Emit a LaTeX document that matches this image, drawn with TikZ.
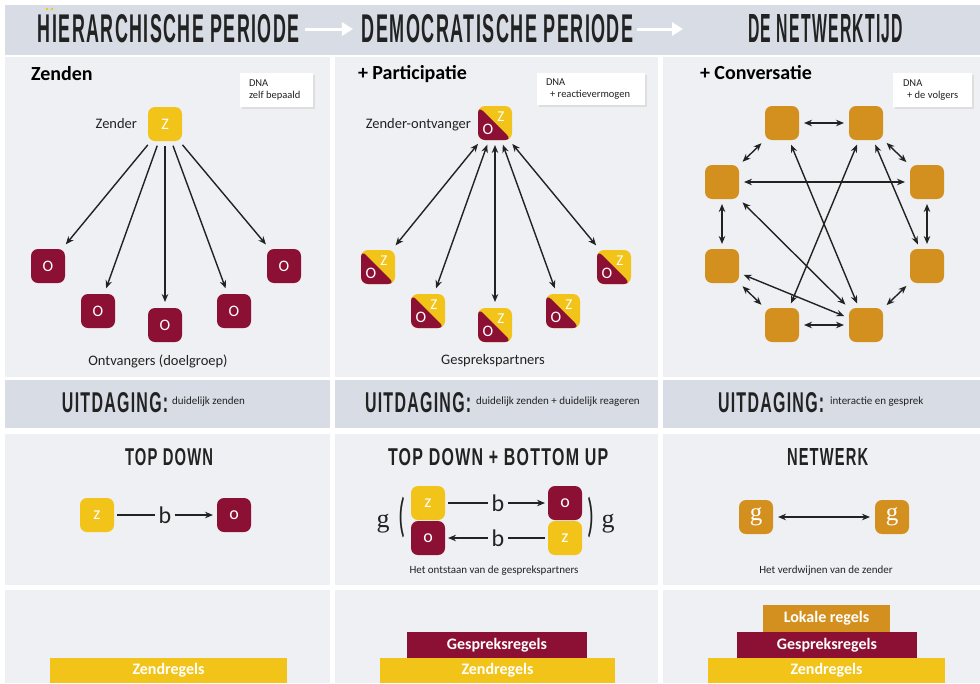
\documentclass[tikz,border=0pt]{standalone}
\usepackage{fontspec}
\usepackage{graphicx}
\setmainfont{Carlito}
\newfontfamily\capsfont[LetterSpace=8]{Liberation Sans}
\newfontfamily\gfont{Liberation Serif}
\usetikzlibrary{arrows.meta,calc}
\definecolor{zy}{HTML}{F2C419}
\definecolor{ored}{HTML}{8C1034}
\definecolor{gor}{HTML}{D4901F}
\definecolor{pbg}{HTML}{EEF0F3}
\definecolor{band}{HTML}{D8DDE5}
\definecolor{ink}{HTML}{222222}
\newcommand{\capstxt}[3]{\resizebox{#1pt}{#2pt}{\capsfont\bfseries #3\kern-0.08em}}
\begin{document}
\begin{tikzpicture}[x=1pt,y=-1pt,
  every node/.style={inner sep=0pt,outer sep=0pt,text=ink},
  arrowtip/.tip={Stealth[length=8pt,width=6.5pt]},
  ln/.style={draw=ink,line width=1.4pt},
  arr/.style={ln,-arrowtip,shorten <=5pt,shorten >=6pt},
  darr/.style={ln,arrowtip-arrowtip,shorten <=5pt,shorten >=5pt},
  box/.style={minimum width=34pt,minimum height=34pt,rounded corners=7pt,text=white,font=\fontsize{16}{16}\selectfont},
  zbox/.style={box,fill=zy},
  obox/.style={box,fill=ored},
  gbox/.style={box,fill=gor,font=\gfont\fontsize{25}{25}\selectfont},
  zobox/.style={box,fill=zy,path picture={
     \fill[ored] (path picture bounding box.north west) -- (path picture bounding box.south west) -- (path picture bounding box.south east) -- cycle;
     \node[text=white,font=\fontsize{15}{15}\selectfont] at ($(path picture bounding box.center)+(6pt,6pt)$) {Z};
     \node[text=white,font=\fontsize{16}{16}\selectfont] at ($(path picture bounding box.center)+(-7pt,-6pt)$) {O};}},
  dnabox/.style={fill=white,preaction={fill=black!13,transform canvas={xshift=1.5pt,yshift=-1.5pt}}},
  dnatxt/.style={anchor=west,align=left,font=\fontsize{10.5}{11.5}\selectfont},
  title/.style={anchor=base west,font=\bfseries\fontsize{20}{20}\selectfont,text=black},
  lbl/.style={font=\fontsize{14.5}{14.5}\selectfont},
  small/.style={font=\fontsize{11}{11}\selectfont},
  bnode/.style={font=\fontsize{24}{24}\selectfont,inner xsep=4pt},
  bar/.style={text=white,font=\bfseries\fontsize{16}{16}\selectfont}
]
\useasboundingbox (0,0) rectangle (980,683);
\fill[white] (0,0) rectangle (980,683);
% backgrounds
\fill[band] (5,5) rectangle (980,55);
\foreach \a/\b in {5/330,335/658,663/980}{
  \fill[pbg] (\a,57) rectangle (\b,377);
  \fill[band] (\a,380) rectangle (\b,428);
  \fill[pbg] (\a,434) rectangle (\b,585);
  \fill[pbg] (\a,590) rectangle (\b,683);
}
% header
\node (h1) at (168,29) {\capstxt{260}{28}{HIERARCHISCHE PERIODE}};
\node (h2) at (497,29) {\capstxt{270}{28}{DEMOCRATISCHE PERIODE}};
\node (h3) at (825,29) {\capstxt{154}{28}{DE NETWERKTIJD}};
\fill[zy] (47,9) circle (1.4pt);
\fill[zy] (52,9) circle (1.4pt);
\draw[white,line width=3pt,-{Triangle[length=11pt,width=13pt]},shorten <=7pt,shorten >=9pt] (h1) -- (h2);
\draw[white,line width=3pt,-{Triangle[length=11pt,width=13pt]},shorten <=5pt,shorten >=65pt] (h2) -- (h3);

% ===== panel 1 top
\node[title] (t1) at (31,80) {Zenden};
\node[dnabox,minimum width=73pt,minimum height=34pt] (dna1) at (276.5,90) {};
\node[dnatxt] (dt1) at (249,90) {DNA\\zelf bepaald};
\node[lbl,anchor=base east] (zl1) at (137,128) {Zender};
\node[zbox] (z1) at (165,124) {Z};
\node[obox] (o11) at (48,266) {O};
\node[obox] (o12) at (98,311) {O};
\node[obox] (o13) at (165,325) {O};
\node[obox] (o14) at (234,311) {O};
\node[obox] (o15) at (284,266) {O};
\foreach \n in {o11,o12,o13,o14,o15} \draw[arr] (z1) -- (\n);
\node[lbl,anchor=base] (ol1) at (158,365) {Ontvangers (doelgroep)};

% ===== panel 2 top
\node[title] (t2) at (358,79) {+ Participatie};
\node[dnabox,minimum width=108pt,minimum height=32pt] (dna2) at (591,89) {};
\node[dnatxt] (dt2) at (546,89) {DNA\\\ \,+ reactievermogen};
\node[lbl,anchor=base east] (zl2) at (471,128) {Zender-ontvanger};
\node[zobox] (zo2) at (495,123) {};
\node[zobox] (p21) at (378,267) {};
\node[zobox] (p22) at (428,311) {};
\node[zobox] (p23) at (495,325) {};
\node[zobox] (p24) at (563,311) {};
\node[zobox] (p25) at (614,267) {};
\foreach \n in {p21,p22,p23,p24,p25} \draw[darr,shorten >=6pt] (zo2) -- (\n);
\node[lbl,anchor=base] (gl2) at (493,364) {Gesprekspartners};

% ===== panel 3 top
\node[title] (t3) at (700,79) {+ Conversatie};
\node[dnabox,minimum width=79pt,minimum height=34pt] (dna3) at (932.5,90) {};
\node[dnatxt] (dt3) at (903,90) {DNA\\\ \,+ de volgers};
\node[gbox] (na) at (782,123) {};
\node[gbox] (nb) at (866,123) {};
\node[gbox] (nc) at (927,182) {};
\node[gbox] (nd) at (927,266) {};
\node[gbox] (ne) at (866,325) {};
\node[gbox] (nf) at (782,325) {};
\node[gbox] (ng) at (722,266) {};
\node[gbox] (nh) at (722,182) {};
\foreach \a/\b in {na/nb,nb/nc,nc/nd,nd/ne,ne/nf,nf/ng,ng/nh,nh/na,nh/nc,na/ne,nb/nf,nb/nd,nh/ne,ng/ne}
  \draw[darr] (\a) -- (\b);

% ===== uitdaging row
\node (u1) at (114.5,403) {\capstxt{105}{20}{UITDAGING:}};
\node[small,anchor=west] (ut1) at (172,402) {duidelijk zenden};
\node (u2) at (417.5,403) {\capstxt{105}{20}{UITDAGING:}};
\node[small,anchor=west] (ut2) at (476,402) {duidelijk zenden + duidelijk reageren};
\node (u3) at (770.5,403) {\capstxt{105}{20}{UITDAGING:}};
\node[small,anchor=west] (ut3) at (830,402) {interactie en gesprek};

% ===== middle row panel 1
\node (m1) at (168.5,457) {\capstxt{87}{17}{TOP DOWN}};
\node[zbox,font=\fontsize{18}{18}\selectfont] (mz1) at (97,515) {z};
\node[obox,font=\fontsize{18}{18}\selectfont] (mo1) at (234,515) {o};
\node[bnode] (b1) at (165,515) {b};
\draw[ln,shorten <=3pt] (mz1) -- (b1);
\draw[ln,-arrowtip,shorten >=4pt] (b1) -- (mo1);

% ===== middle row panel 2
\node (m2) at (497.5,457) {\capstxt{219}{17}{TOP DOWN + BOTTOM UP}};
\node[zbox,font=\fontsize{18}{18}\selectfont] (mz2) at (428,503) {z};
\node[obox,font=\fontsize{18}{18}\selectfont] (mo2) at (428,538) {o};
\node[obox,font=\fontsize{18}{18}\selectfont] (mo3) at (565,503) {o};
\node[zbox,font=\fontsize{18}{18}\selectfont] (mz3) at (565,538) {z};
\node[bnode] (b2) at (498,503) {b};
\node[bnode] (b3) at (498,538) {b};
\draw[ln,shorten <=3pt] (mz2) -- (b2);
\draw[ln,-arrowtip,shorten >=3pt] (b2) -- (mo3);
\draw[ln,shorten <=3pt] (mz3) -- (b3);
\draw[ln,-arrowtip,shorten >=3pt] (b3) -- (mo2);
\node[anchor=base,font=\gfont\fontsize{26}{26}\selectfont] (gl) at (383,527) {g};
\node (pl) at (402,517.5) {\resizebox*{7pt}{41pt}{\fontsize{20}{20}\selectfont(}};
\node (pr) at (591,517.5) {\resizebox*{7pt}{41pt}{\fontsize{20}{20}\selectfont)}};
\node[anchor=base,font=\gfont\fontsize{26}{26}\selectfont] (gr) at (608,527) {g};
\node[small] (ms2) at (494,571) {Het ontstaan van de gesprekspartners};

% ===== middle row panel 3
\node (m3) at (827,457) {\capstxt{80}{17}{NETWERK}};
\node[gbox] (g1) at (756,517) {g};
\node[gbox] (g2) at (892,517) {g};
\draw[darr] (g1) -- (g2);
\node[small] (ms3) at (826,571) {Het verdwijnen van de zender};

% ===== bottom bars
\node[bar,fill=zy,minimum width=237pt,minimum height=25pt] (zr1) at (168.5,670.5) {Zendregels};
\node[bar,fill=zy,minimum width=235pt,minimum height=25pt] (zr2) at (497.5,670.5) {Zendregels};
\node[bar,fill=ored,minimum width=180pt,minimum height=26pt] (gr2) at (497,645) {Gespreksregels};
\node[bar,fill=zy,minimum width=237pt,minimum height=25pt] (zr3) at (826.5,670.5) {Zendregels};
\node[bar,fill=ored,minimum width=180pt,minimum height=26pt] (gr3) at (827,645) {Gespreksregels};
\node[bar,fill=gor,minimum width=127pt,minimum height=27pt] (lr3) at (826.5,618.5) {Lokale regels};
\end{tikzpicture}
\end{document}
